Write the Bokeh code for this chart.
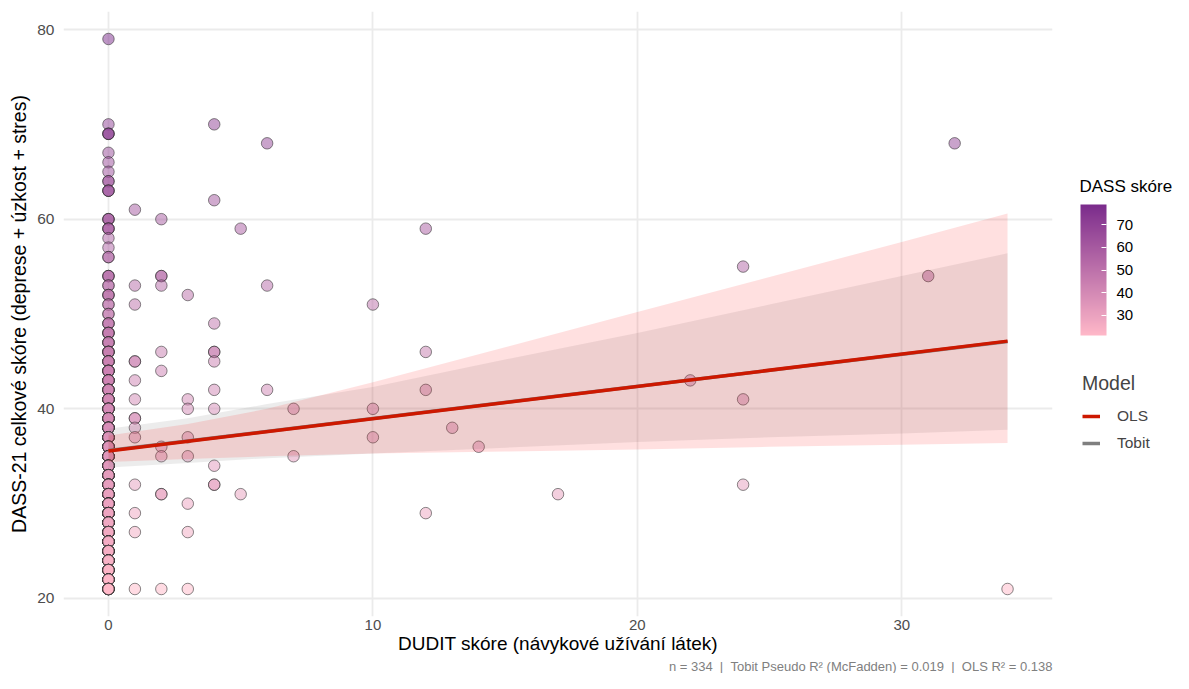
import numpy as np
from bokeh.plotting import figure
from bokeh.models import (ColumnDataSource, LinearColorMapper, ColorBar, FixedTicker,
                          Range1d, Legend, LegendItem, Title, Label)
from bokeh.transform import transform
from bokeh.layouts import row
from bokeh.embed import file_html
from bokeh.resources import INLINE

FONT = "Liberation Sans"

# ---------------- data ----------------
# respondents with DUDIT = 0 : DASS score and number of overlapping respondents
zero_dass = [79, 70, 69, 67, 66, 65, 64, 63, 60, 59, 58, 57, 56,
             54, 53, 52, 51, 50, 49, 48, 47, 46, 45, 44, 43, 42, 41, 40,
             39, 38, 37, 36, 35, 34, 33, 32, 31, 30, 29, 28, 27, 26, 25,
             24, 23, 22, 21]
zero_count = [1, 1, 3, 1, 1, 1, 2, 3, 3, 3, 1, 1, 2,
              3, 2, 3, 2, 2, 3, 4, 4, 5, 5, 6, 6, 6, 7, 7,
              7, 8, 8, 8, 9, 9, 9, 9, 10, 10, 11, 11, 11, 11, 10,
              10, 9, 8, 9]

# respondents with DUDIT > 0
other_dudit = [1, 1, 1, 1, 1, 1, 1, 1, 1, 1, 1, 1, 1,
               2, 2, 2, 2, 2, 2, 2, 2, 2,
               3, 3, 3, 3, 3, 3, 3, 3,
               4, 4, 4, 4, 4, 4, 4, 4, 4,
               5, 5, 6, 6, 6, 7, 7, 10, 10, 10,
               12, 12, 12, 12, 13, 14, 17, 22, 24, 24, 24, 31, 32, 34]
other_dass = [61, 53, 51, 45, 43, 41, 39, 38, 37, 32, 29, 27, 21,
              60, 54, 53, 46, 44, 36, 35, 31, 21,
              52, 41, 40, 37, 35, 30, 27, 21,
              70, 62, 49, 46, 45, 42, 40, 34, 32,
              59, 31, 68, 53, 42, 40, 35, 51, 40, 37,
              59, 46, 42, 29, 38, 36, 31, 43, 55, 41, 32, 54, 68, 21]
other_count = [1, 1, 1, 2, 1, 1, 2, 1, 1, 1, 1, 1, 1,
               1, 2, 1, 1, 1, 1, 1, 2, 1,
               1, 1, 1, 1, 1, 1, 1, 1,
               1, 1, 1, 2, 1, 1, 1, 1, 2,
               1, 1, 1, 1, 1, 1, 1, 1, 1, 1,
               1, 1, 1, 1, 1, 1, 1, 1, 1, 1, 1, 1, 1, 1]

# fitted lines and confidence bands
band_x = [0, 3, 6, 10, 15, 20, 25, 30, 34]
ols_lo = [34.4, 34.7, 35.0, 35.3, 35.5, 35.7, 36.0, 36.2, 36.4]
ols_hi = [37.2, 38.4, 40.0, 42.8, 46.5, 50.2, 53.9, 57.6, 60.6]
tobit_lo = [33.8, 34.3, 34.8, 35.3, 35.9, 36.5, 37.0, 37.4, 37.8]
tobit_hi = [37.9, 39.0, 40.5, 42.3, 45.2, 48.0, 51.0, 54.0, 56.4]
line_x = [0, 34]
ols_fit = [35.55, 47.14]
tobit_fit = [35.6, 47.1]

x_ticks = [0, 10, 20, 30]
y_ticks = [20, 40, 60, 80]
cbar_ticks = [30, 40, 50, 60, 70]
NB = "\u00a0"
caption = ("n = 334" + NB * 2 + "|" + NB * 2 + "Tobit Pseudo R\u00b2 (McFadden) = 0.019"
           + NB * 2 + "|" + NB * 2 + "OLS R\u00b2 = 0.138")

# ---------------- colour ramp (Lab interpolation, like ggplot) ----------------
def hex_to_lab(h):
    rgb = [int(h[i:i + 2], 16) / 255 for i in (1, 3, 5)]
    lin = [c / 12.92 if c <= 0.04045 else ((c + 0.055) / 1.055) ** 2.4 for c in rgb]
    r, g, b = lin
    X = (0.4124 * r + 0.3576 * g + 0.1805 * b) / 0.95047
    Y = (0.2126 * r + 0.7152 * g + 0.0722 * b)
    Z = (0.0193 * r + 0.1192 * g + 0.9505 * b) / 1.08883
    f = lambda t: t ** (1 / 3) if t > 0.008856 else 7.787 * t + 16 / 116
    fx, fy, fz = f(X), f(Y), f(Z)
    return 116 * fy - 16, 500 * (fx - fy), 200 * (fy - fz)

def lab_to_hex(L, a, b):
    fy = (L + 16) / 116
    fx = fy + a / 500
    fz = fy - b / 200
    finv = lambda t: t ** 3 if t ** 3 > 0.008856 else (t - 16 / 116) / 7.787
    X, Y, Z = finv(fx) * 0.95047, finv(fy), finv(fz) * 1.08883
    r = 3.2406 * X - 1.5372 * Y - 0.4986 * Z
    g = -0.9689 * X + 1.8758 * Y + 0.0415 * Z
    bb = 0.0557 * X - 0.2040 * Y + 1.0570 * Z
    out = []
    for c in (r, g, bb):
        c = 12.92 * c if c <= 0.0031308 else 1.055 * c ** (1 / 2.4) - 0.055
        out.append(int(round(min(max(c, 0), 1) * 255)))
    return "#%02x%02x%02x" % tuple(out)

low_lab = hex_to_lab("#FFB8C8")
high_lab = hex_to_lab("#7B2C8C")
palette = [lab_to_hex(*[lo + (hi - lo) * t for lo, hi in zip(low_lab, high_lab)])
           for t in np.linspace(0, 1, 256)]

mapper = LinearColorMapper(palette=palette, low=min(zero_dass + other_dass),
                           high=max(zero_dass + other_dass))

dudit = np.repeat([0] * len(zero_dass) + other_dudit, zero_count + other_count)
dass = np.repeat(zero_dass + other_dass, zero_count + other_count)
src = ColumnDataSource(dict(dudit=dudit, dass=dass))

# ---------------- main plot ----------------
p = figure(width=1056, height=673, x_range=Range1d(-1.7, 35.7), y_range=Range1d(18.1, 81.9),
           output_backend="svg", toolbar_location=None,
           min_border_left=63, min_border_right=4, min_border_top=11, min_border_bottom=0)
p.outline_line_color = None
p.background_fill_color = "white"
p.border_fill_color = "white"

p.scatter("dudit", "dass", source=src, size=11.5,
          fill_color=transform("dass", mapper), fill_alpha=0.5,
          line_color="#2a2a2a", line_alpha=0.55, line_width=1)

p.varea(x=band_x, y1=tobit_lo, y2=tobit_hi, fill_color="#7F7F7F", fill_alpha=0.15)
p.varea(x=band_x, y1=ols_lo, y2=ols_hi, fill_color="#FF0000", fill_alpha=0.12)
p.line(line_x, tobit_fit, line_color="#7F7F7F", line_width=3.5)
p.line(line_x, ols_fit, line_color="#CD1800", line_width=3.5)

p.xaxis.ticker = FixedTicker(ticks=x_ticks)
p.yaxis.ticker = FixedTicker(ticks=y_ticks)
p.xgrid.ticker = FixedTicker(ticks=x_ticks)
p.ygrid.ticker = FixedTicker(ticks=y_ticks)
p.grid.grid_line_color = "#EBEBEB"
p.grid.grid_line_width = 1.8
p.grid.minor_grid_line_color = None

p.xaxis.axis_label = "DUDIT skóre (návykové užívání látek)"
p.yaxis.axis_label = "DASS-21 celkové skóre (deprese + úzkost + stres)"
for ax in (p.xaxis[0], p.yaxis[0]):
    ax.axis_line_color = None
    ax.major_tick_line_color = None
    ax.minor_tick_line_color = None
    ax.major_tick_in = 0
    ax.major_tick_out = 0
    ax.major_label_text_font = FONT
    ax.major_label_text_font_size = "15.5px"
    ax.major_label_text_color = "#4D4D4D"
    ax.axis_label_text_font = FONT
    ax.axis_label_text_font_size = "19.5px"
    ax.axis_label_text_font_style = "normal"
    ax.axis_label_text_color = "black"
p.xaxis.major_label_text_font_size = "15px"
p.xaxis.axis_label_text_font_size = "19px"
p.xaxis.major_label_standoff = 3
p.xaxis.axis_label_standoff = 0
p.yaxis.major_label_standoff = 9
p.yaxis.axis_label_standoff = 4

cap = Title(text=caption, align="right", text_font=FONT, text_font_size="13px",
            text_color="#808080", text_font_style="normal", standoff=0, offset=0)
p.add_layout(cap, "below")

# ---------------- legend panel ----------------
# (the row aligns this panel's frame with the main plot frame)
FB = 616  # bottom of the aligned frame, in page pixels
lg = figure(width=117, height=673, x_range=Range1d(0, 1), y_range=Range1d(0, 1),
            output_backend="svg", toolbar_location=None, min_border=0,
            x_axis_location=None, y_axis_location=None)
lg.outline_line_color = None
lg.grid.visible = False

r_ols = lg.line(x=[np.nan], y=[np.nan], line_color="#CD1800", line_width=3.5)
r_tob = lg.line(x=[np.nan], y=[np.nan], line_color="#7F7F7F", line_width=3.5)

cbar = ColorBar(color_mapper=mapper, ticker=FixedTicker(ticks=cbar_ticks),
                width=26, height=131, location=(24, FB - 335), padding=0,
                major_label_text_font=FONT, major_label_text_font_size="15px",
                major_label_text_color="black", label_standoff=10,
                major_tick_line_color="white", major_tick_in=5, major_tick_out=0,
                minor_tick_line_color=None, bar_line_color=None,
                border_line_color=None, background_fill_color=None)
lg.add_layout(cbar)

cbar_title = Label(x=23, y=FB - 186, x_units="screen", y_units="screen",
                   text="DASS skóre", text_font=FONT, text_font_size="17px",
                   text_color="black", text_baseline="middle", text_align="left")
lg.add_layout(cbar_title)

legend = Legend(items=[LegendItem(label="OLS", renderers=[r_ols]),
                       LegendItem(label="Tobit", renderers=[r_tob])],
                title="Model", location=(26, FB - 453), padding=0, margin=0,
                border_line_color=None, background_fill_color=None,
                title_text_font=FONT, title_text_font_size="19.5px",
                title_text_font_style="normal", title_standoff=11,
                label_text_font=FONT, label_text_font_size="15.5px",
                glyph_width=18, glyph_height=20, label_height=20,
                label_standoff=17, spacing=7)
lg.add_layout(legend)

layout = row(p, lg)
open("out.html", "w").write(file_html(layout, INLINE))
